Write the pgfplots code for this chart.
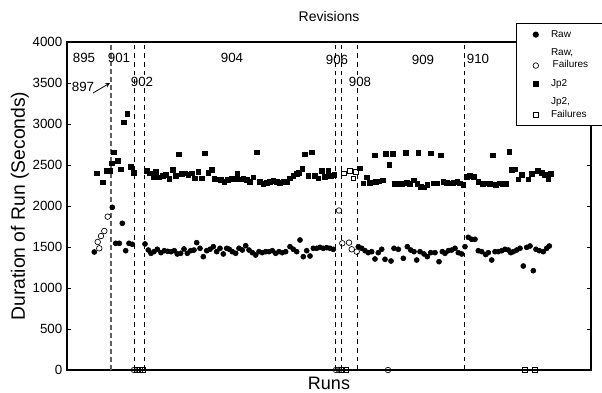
\documentclass[border=0pt]{standalone}
\usepackage{fontspec}
\setmainfont{Liberation Sans}
\usepackage{pgfplots}
\pgfplotsset{compat=1.18}
\usepackage{pgfplotstable}
\pgfplotsset{
  low legend mark/.style={legend image code/.code={\path (0pt,0pt) (20pt,0pt); \draw[##1] plot coordinates {(11pt,-4.8pt)};}},
}

\pgfplotstableread{
x y
94.3 1439
112.3 1984
115.7 1545
119.3 1545
122.3 1789
125.7 1455
129 1545
132.3 1533
145 1537
148.3 1463
151 1423
154 1443
157.3 1472
161 1431
164.3 1455
167.7 1447
171 1443
174.3 1455
177.3 1415
180.7 1423
184 1476
187.3 1423
190.7 1455
194 1463
196.7 1553
200 1484
203.3 1382
206.7 1455
210 1472
213.3 1504
216.7 1443
220 1484
223.3 1415
226.7 1484
229.3 1472
232.3 1443
235.7 1423
239 1484
242.3 1463
245.7 1516
249 1463
252.3 1431
255.7 1402
259 1443
262.3 1431
265.7 1443
269 1443
272.3 1455
275.7 1423
279 1443
282.3 1431
285.7 1443
290 1504
293.3 1472
296.7 1443
300 1585
303.3 1382
306.7 1455
310 1390
313.3 1484
316.7 1484
320 1496
323.3 1484
326.7 1492
330 1484
333.3 1472
358.3 1504
361.7 1484
365 1455
368.3 1431
371.7 1443
375 1354
378.3 1431
381.7 1472
385 1350
391 1329
394 1484
398.3 1472
403.3 1362
407.3 1504
410.7 1463
414 1443
416.7 1341
420 1443
424 1415
427.3 1382
430.7 1431
435 1431
439 1321
442.3 1443
445 1423
448.3 1455
451.7 1463
455 1484
458.3 1431
461.7 1415
465 1504
468.3 1618
471.7 1594
475 1594
478.3 1455
481.7 1443
485.7 1408
488.3 1431
491.7 1341
495 1443
498.3 1443
501.7 1455
505 1472
508.3 1463
510.7 1431
513.3 1443
516.7 1463
520 1484
523.3 1268
526.7 1496
530 1512
533.3 1211
536 1472
539.3 1455
543.3 1443
546.7 1484
549.3 1512
}\rawdata

\pgfplotstableread{
x y
97.7 1561
99.3 1484
101 1634
104.3 1695
107.7 1870
339 1945
342.3 1545
349 1553
351.7 1472
356.7 1443
134 0
336 0
339 0
388 0
}\rawfail

\pgfplotstableread{
x y
96.7 2399
102.7 2289
106.5 2427
110 2427
111.7 2520
114 2655
117.5 2549
120.7 2447
124 3020
127.3 3122
130.7 2480
134 2406
146.7 2431
150 2399
153.3 2358
156 2419
159 2350
162.7 2366
166 2378
169.3 2329
172.7 2439
176 2366
179 2630
181.7 2390
185 2399
188.3 2378
191.7 2399
195 2338
198.3 2419
201.7 2338
204.7 2642
208.3 2406
211.7 2439
214.3 2329
217.7 2325
221 2317
224.3 2297
227.7 2317
231.7 2329
234.5 2335
237.3 2390
240 2325
243.3 2329
246.7 2317
250 2297
253.3 2350
256.7 2655
260 2297
263.3 2268
266.7 2285
270 2297
273.3 2305
276.7 2297
280 2285
283.3 2297
286.7 2297
290 2338
293.3 2366
296.7 2390
299 2406
302.3 2451
305 2630
308.3 2366
311.7 2655
315 2366
318.3 2338
321.7 2431
325 2358
328.3 2431
331 2366
334.3 2378
360 2459
363.3 2277
366.7 2350
370 2285
375 2618
375.5 2293
379.3 2301
382.7 2313
386 2634
389.3 2500
392.7 2634
395 2268
398.3 2268
401.7 2268
405.7 2650
406.7 2285
410 2268
414 2313
417.3 2268
418.3 2650
420.7 2236
424 2228
427.3 2256
431 2642
433.3 2277
437.3 2277
441 2618
443.3 2297
446.7 2285
450 2277
453.3 2285
457.3 2297
460 2277
463.3 2256
466.7 2358
470 2366
474 2358
478.3 2293
482.7 2268
486.7 2277
489.5 2268
492.7 2618
496 2256
499.3 2277
502.7 2268
506 2268
509.3 2662
511.7 2439
515 2447
518.3 2325
521.7 2378
528.3 2325
531.7 2390
537.7 2431
541.7 2406
545 2378
548.3 2329
551 2390
}\jpdata

\pgfplotstableread{
x y
344 2399
350 2427
353.3 2338
355.7 2419
137 0
140 0
143 0
342 0
346 0
525 0
535 0
}\jpfail

\begin{document}
\begin{tikzpicture}
\begin{axis}[
  at={(0pt,0pt)}, anchor=south west,
  scale only axis, width=393pt, height=246pt,
  xmin=67, xmax=591, ymin=0, ymax=4000,
  xtick=\empty, ytick={0,500,...,4000},
  tick align=inside, major tick length=3pt,
  tick style={black, line width=0.5pt},
  yticklabel style={font=\fontsize{10}{12}\selectfont},
  /pgf/number format/assume math mode=true,
  scaled y ticks=false,
  /pgf/number format/1000 sep={},
  title={Revisions},
  title style={font=\fontsize{10.5}{12}\selectfont, at={(0.5,1)}, anchor=south, yshift=5.5pt},
  xlabel={Runs},
  xlabel style={font=\fontsize{13.5}{16}\selectfont, at={(0.5,0)}, anchor=center, yshift=-10pt},
  ylabel={Duration of Run (Seconds)},
  ylabel style={font=\fontsize{14.5}{16}\selectfont},
  ylabel shift=-4pt,
  clip mode=individual,
  axis line style={line width=0.8pt},
  legend image code/.code={\path (0pt,0pt) (20pt,0pt); \draw[#1] plot coordinates {(11pt,0pt)};},
  legend style={at={(0.857,1.058)}, anchor=north west,
    font=\fontsize{7.5}{9.5}\selectfont, cells={align=left},
    draw=black, line width=0.8pt, row sep=3pt, inner xsep=3pt, inner ysep=3pt},
  legend cell align=left,
]
% revision separators
\addplot[forget plot, gray!75!black, line width=1.6pt, dash pattern=on 3.5pt off 2.5pt] coordinates {(111,0) (111,4000)};
\addplot[forget plot, black, line width=0.5pt, dash pattern=on 3.5pt off 3pt] coordinates {(134,0) (134,4000)};
\addplot[forget plot, black, line width=0.5pt, dash pattern=on 3.5pt off 3pt] coordinates {(144,0) (144,4000)};
\addplot[forget plot, black, line width=0.5pt, dash pattern=on 3.5pt off 3pt] coordinates {(335,0) (335,4000)};
\addplot[forget plot, black, line width=0.5pt, dash pattern=on 3.5pt off 3pt] coordinates {(341,0) (341,4000)};
\addplot[forget plot, black, line width=0.5pt, dash pattern=on 3.5pt off 3pt] coordinates {(357.5,0) (357.5,4000)};
\addplot[forget plot, black, line width=0.5pt, dash pattern=on 3.5pt off 3pt] coordinates {(464.3,0) (464.3,4000)};

\addplot[only marks, mark=*, mark size=1.9pt, black] table {\rawdata};
\addlegendentry{Raw\hspace*{24pt}}
\addplot[only marks, mark=o, mark size=2.1pt, black, mark options={line width=0.5pt}, low legend mark] table {\rawfail};
\addlegendentry{Raw,\\ \,Failures}
\addplot[only marks, mark=square*, mark size=1.8pt, black] table {\jpdata};
\addlegendentry{Jp2}
\addplot[only marks, mark=square, mark size=1.8pt, black, mark options={line width=0.5pt}, low legend mark] table {\jpfail};
\addlegendentry{Jp2,\\Failures}

\node[font=\fontsize{10}{12}\selectfont] at (axis cs:84,3805) {895};
\node[font=\fontsize{10}{12}\selectfont] at (axis cs:119,3805) {901};
\node[font=\fontsize{10}{12}\selectfont] at (axis cs:232,3805) {904};
\node[font=\fontsize{10}{12}\selectfont] at (axis cs:83,3451) {897};
\node[font=\fontsize{10}{12}\selectfont] at (axis cs:142,3512) {902};
\node[font=\fontsize{10}{12}\selectfont] at (axis cs:337,3780) {906};
\node[font=\fontsize{10}{12}\selectfont] at (axis cs:423,3780) {909};
\node[font=\fontsize{10}{12}\selectfont] at (axis cs:478,3793) {910};
\node[font=\fontsize{10}{12}\selectfont] at (axis cs:360,3512) {908};
\draw[->, >=stealth, line width=0.6pt] (axis cs:93,3378) -- (axis cs:110,3500);
\end{axis}
\pgfresetboundingbox
\path[use as bounding box] (-50.25pt,-16.5pt) rectangle (401.25pt,277.5pt);
\end{tikzpicture}
\end{document}
